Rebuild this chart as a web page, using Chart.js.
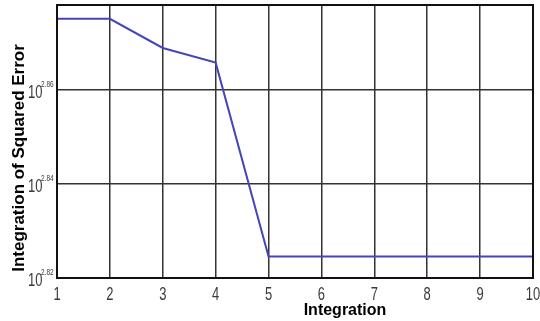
<!DOCTYPE html>
<html>
<head>
<meta charset="utf-8">
<script src="https://cdn.jsdelivr.net/npm/chart.js@4/dist/chart.umd.min.js"></script>
<style>
  html, body { margin: 0; padding: 0; background: #fff; }
  #wrap { width: 540px; height: 321px; }
</style>
</head>
<body>
<div id="wrap"><canvas id="iseChart" width="540" height="321"></canvas></div>
<script>
// Iteration numbers on the x axis
const iterations = [1, 2, 3, 4, 5, 6, 7, 8, 9, 10];
// Integration of squared error
const iseValues = [750.0, 750.0, 739.4, 734.1, 667.7, 667.7, 667.7, 667.7, 667.7, 667.7];
// Y tick labels, written as exponents of 10
const yTickExponents = ['2.82', '2.84', '2.86'];
const yMin = 660.69;   // 10^2.82
const yMax = 755.1;    // top of the plot

const labelFont = "'Liberation Sans', Arial, sans-serif";

// narrow text: squeeze the glyphs horizontally
function narrowText(ctx, text, x, y, size, align) {
    ctx.save();
    ctx.font = size + 'px ' + labelFont;
    ctx.textAlign = align;
    ctx.translate(x, y);
    ctx.scale(0.72, 1);
    ctx.fillText(text, 0, 0);
    ctx.restore();
}

// Draws the box, tick labels and both axis titles
const decorations = {
    id: 'decorations',
    afterDraw(chart) {
        const ctx = chart.ctx;
        const area = chart.chartArea;
        const xScale = chart.scales.x;
        const yScale = chart.scales.y;
        ctx.save();

        // frame around the plot
        ctx.strokeStyle = '#111';
        ctx.lineWidth = 2;
        ctx.strokeRect(area.left, area.top, area.right - area.left, area.bottom - area.top);

        ctx.fillStyle = '#3a3a3a';
        ctx.textBaseline = 'alphabetic';

        // x tick labels
        iterations.forEach(v => {
            const x = xScale.getPixelForValue(v);
            narrowText(ctx, String(v), x, 300, 18, 'center');
        });

        // 10^x labels
        yTickExponents.forEach(exp => {
            const y = yScale.getPixelForValue(Math.pow(10, parseFloat(exp)));
            narrowText(ctx, '10', 28, y + 8, 18, 'left');
            narrowText(ctx, exp, 41, y - 3, 9, 'left');
        });

        // axis titles
        ctx.fillStyle = '#000';
        ctx.textAlign = 'center';
        ctx.textBaseline = 'middle';
        ctx.font = 'bold 16px Arial, "Liberation Sans", sans-serif';
        ctx.fillText('Integration', 345, 311);

        ctx.font = 'bold 17px Arial, "Liberation Sans", sans-serif';
        ctx.translate(19, 158);
        ctx.rotate(-Math.PI / 2);
        ctx.fillText('Integration of Squared Error', 0, 0);
        ctx.restore();
    }
};

new Chart(document.getElementById('iseChart').getContext('2d'), {
    type: 'line',
    data: {
        datasets: [{
            data: iterations.map((it, i) => ({ x: it, y: iseValues[i] })),
            borderColor: '#4444bb',
            borderWidth: 2,
            pointRadius: 0,
            tension: 0,
            fill: false
        }]
    },
    options: {
        responsive: false,
        animation: false,
        events: [],
        layout: { padding: { top: 5, right: 7, left: 0, bottom: 0 } },
        plugins: {
            legend: { display: false },
            tooltip: { enabled: false }
        },
        scales: {
            x: {
                type: 'linear',
                min: 1,
                max: 10,
                afterFit(scale) { scale.height = 43; },
                afterBuildTicks(scale) {
                    scale.ticks = iterations.map(v => ({ value: v }));
                },
                grid: { color: '#333', lineWidth: 1.5, drawTicks: false },
                border: { display: false },
                ticks: { display: false }
            },
            y: {
                type: 'logarithmic',
                min: yMin,
                max: yMax,
                afterFit(scale) { scale.width = 57; },
                afterBuildTicks(scale) {
                    scale.ticks = yTickExponents.map(e => ({ value: Math.pow(10, parseFloat(e)) }));
                },
                grid: { color: '#333', lineWidth: 1.5, drawTicks: false },
                border: { display: false },
                ticks: { display: false }
            }
        }
    },
    plugins: [decorations]
});
</script>
</body>
</html>
